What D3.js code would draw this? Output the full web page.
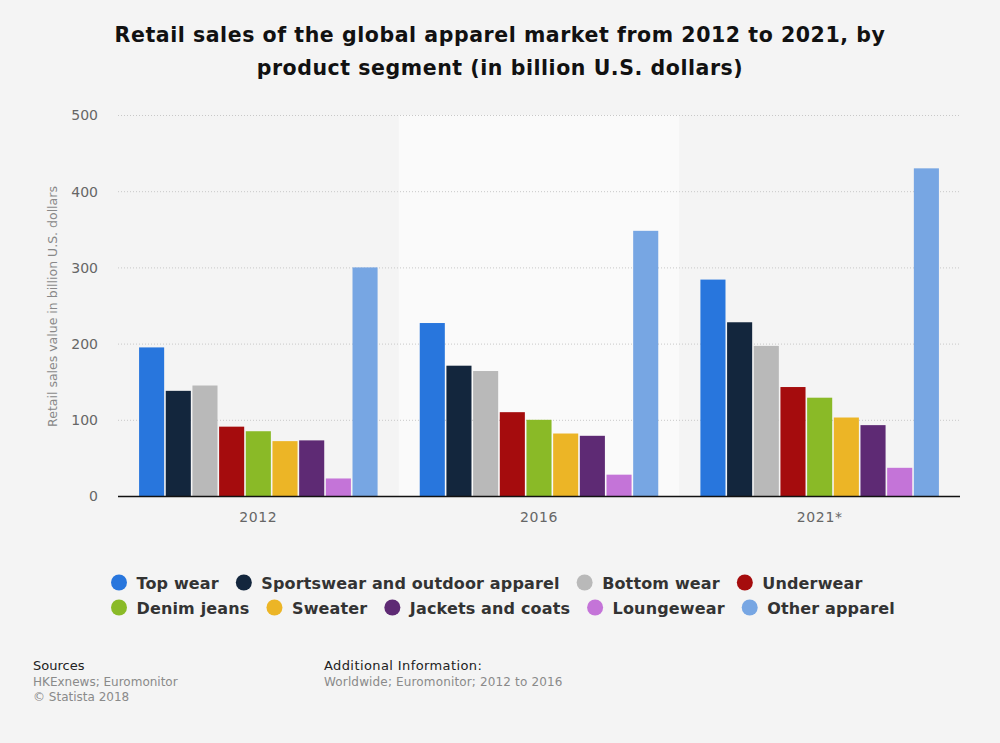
<!DOCTYPE html>
<html>
<head>
<meta charset="utf-8">
<script src="https://cdn.jsdelivr.net/npm/d3@7"></script>
<style>
  html, body { margin: 0; padding: 0; background: #f4f4f4; }
  svg { display: block; }
</style>
</head>
<body>
<svg id="chart" width="1000" height="743"></svg>
<script>
const years = ["2012", "2016", "2021*"];
const segments = ["Top wear", "Sportswear and outdoor apparel", "Bottom wear", "Underwear",
  "Denim jeans", "Sweater", "Jackets and coats", "Loungewear", "Other apparel"];
const colors = ["#2876dd", "#13263d", "#b9b9b9", "#a50c0d", "#8aba27", "#ecb526", "#5e2a74", "#c474d8", "#77a6e3"];
const values2012 = [195, 138, 145, 91, 85, 72, 73, 23, 300];
const values2016 = [227, 171, 164, 110, 100, 82, 79, 28, 348];
const values2021 = [284, 228, 197, 143, 129, 103, 93, 37, 430];
const yTicks = [0, 100, 200, 300, 400, 500];
const titleLines = ["Retail sales of the global apparel market from 2012 to 2021, by",
  "product segment (in billion U.S. dollars)"];
const yAxisTitle = "Retail sales value in billion U.S. dollars";
const highlightYear = "2016";

(function () {
const seriesByYear = [values2012, values2016, values2021];
const data = years.map((yr, i) => ({ year: yr, vals: segments.map((s, j) => ({ seg: s, v: seriesByYear[i][j], c: colors[j] })) }));

const svg = d3.select("#chart");
const FONT = "DejaVu Sans, Verdana, sans-serif";

const pLeft = 118, pRight = 960, pTop = 115, pBottom = 496;

const x0 = d3.scaleBand().domain(years).range([pLeft, pRight]).paddingInner(0).paddingOuter(0);
const x1 = d3.scaleBand().domain(segments).range([0, x0.bandwidth()]).paddingInner(0.06).paddingOuter(0.79);
const y = d3.scaleLinear().domain([0, 500]).range([pBottom, pTop]);

// highlight band
svg.append("rect")
  .attr("x", x0(highlightYear)).attr("y", pTop)
  .attr("width", x0.bandwidth()).attr("height", pBottom - pTop)
  .attr("fill", "#fafafa");

// title
const title = svg.append("text")
  .attr("text-anchor", "middle")
  .attr("font-family", FONT).attr("font-weight", "bold")
  .attr("font-size", 20.5).attr("fill", "#111")
  .attr("letter-spacing", 0.55);
titleLines.forEach((t, i) => {
  title.append("tspan").attr("x", 500).attr("y", 42 + i * 33).text(t);
});

// gridlines
svg.append("g").selectAll("line")
  .data(yTicks.filter(d => d > 0))
  .join("line")
  .attr("x1", pLeft).attr("x2", pRight)
  .attr("y1", d => y(d) + 0.5).attr("y2", d => y(d) + 0.5)
  .attr("stroke", "#c8c8c8").attr("stroke-width", 1)
  .attr("stroke-dasharray", "1,2");

// y axis
const yAxis = d3.axisLeft(y).tickValues(yTicks).tickSize(0).tickPadding(0);
const yg = svg.append("g").attr("transform", `translate(${pLeft - 20},0)`).call(yAxis);
yg.select(".domain").remove();
yg.selectAll("text")
  .attr("font-family", FONT).attr("font-size", 14).attr("fill", "#666")
  .attr("dy", "0.35em");

// y axis title
svg.append("text")
  .attr("transform", `translate(57,306.5) rotate(-90)`)
  .attr("text-anchor", "middle")
  .attr("font-family", FONT).attr("font-size", 12.5).attr("fill", "#888")
  .text(yAxisTitle);

// bars
const groups = svg.append("g").selectAll("g")
  .data(data).join("g")
  .attr("transform", d => `translate(${x0(d.year)},0)`);
groups.selectAll("rect")
  .data(d => d.vals).join("rect")
  .attr("x", d => x1(d.seg))
  .attr("y", d => y(d.v))
  .attr("width", x1.bandwidth())
  .attr("height", d => pBottom - y(d.v))
  .attr("fill", d => d.c);

// baseline
svg.append("line")
  .attr("x1", pLeft).attr("x2", pRight)
  .attr("y1", pBottom + 0.5).attr("y2", pBottom + 0.5)
  .attr("stroke", "#111").attr("stroke-width", 1.6);

// x axis labels
const xAxis = d3.axisBottom(x0).tickSize(0).tickPadding(0);
const xg = svg.append("g").attr("transform", `translate(0,${pBottom})`).call(xAxis);
xg.select(".domain").remove();
xg.selectAll("text")
  .attr("font-family", FONT).attr("font-size", 14).attr("fill", "#666")
  .attr("letter-spacing", 0.6)
  .attr("y", 26).attr("dy", 0);

// legend
const legendRows = [segments.slice(0, 4), segments.slice(4)];
const legend = svg.append("g");
legendRows.forEach((row, ri) => {
  let cx = 119;
  const cy = 582.5 + ri * 25;
  row.forEach(seg => {
    const j = segments.indexOf(seg);
    legend.append("circle").attr("cx", cx).attr("cy", cy).attr("r", 8).attr("fill", colors[j]);
    const t = legend.append("text")
      .attr("x", cx + 17.5).attr("y", cy + 6)
      .attr("font-family", FONT).attr("font-weight", "bold")
      .attr("font-size", 16).attr("fill", "#333")
      .attr("letter-spacing", 0.15)
      .text(seg);
    const w = t.node().getComputedTextLength();
    cx = cx + 17.5 + w + 25;
  });
});

// footer
const foot = svg.append("g").attr("font-family", FONT);
foot.append("text").attr("x", 33).attr("y", 670).attr("font-size", 13).attr("fill", "#222").text("Sources");
foot.append("text").attr("x", 33).attr("y", 686).attr("font-size", 12).attr("fill", "#8a8a8a").text("HKExnews; Euromonitor");
foot.append("text").attr("x", 33).attr("y", 701).attr("font-size", 12).attr("fill", "#8a8a8a").text("© Statista 2018");
foot.append("text").attr("x", 324).attr("y", 670).attr("font-size", 13).attr("fill", "#222").attr("letter-spacing", 0.4).text("Additional Information:");
foot.append("text").attr("x", 324).attr("y", 686).attr("font-size", 12).attr("fill", "#8a8a8a").attr("letter-spacing", 0.15).text("Worldwide; Euromonitor; 2012 to 2016");
})();
</script>
</body>
</html>
